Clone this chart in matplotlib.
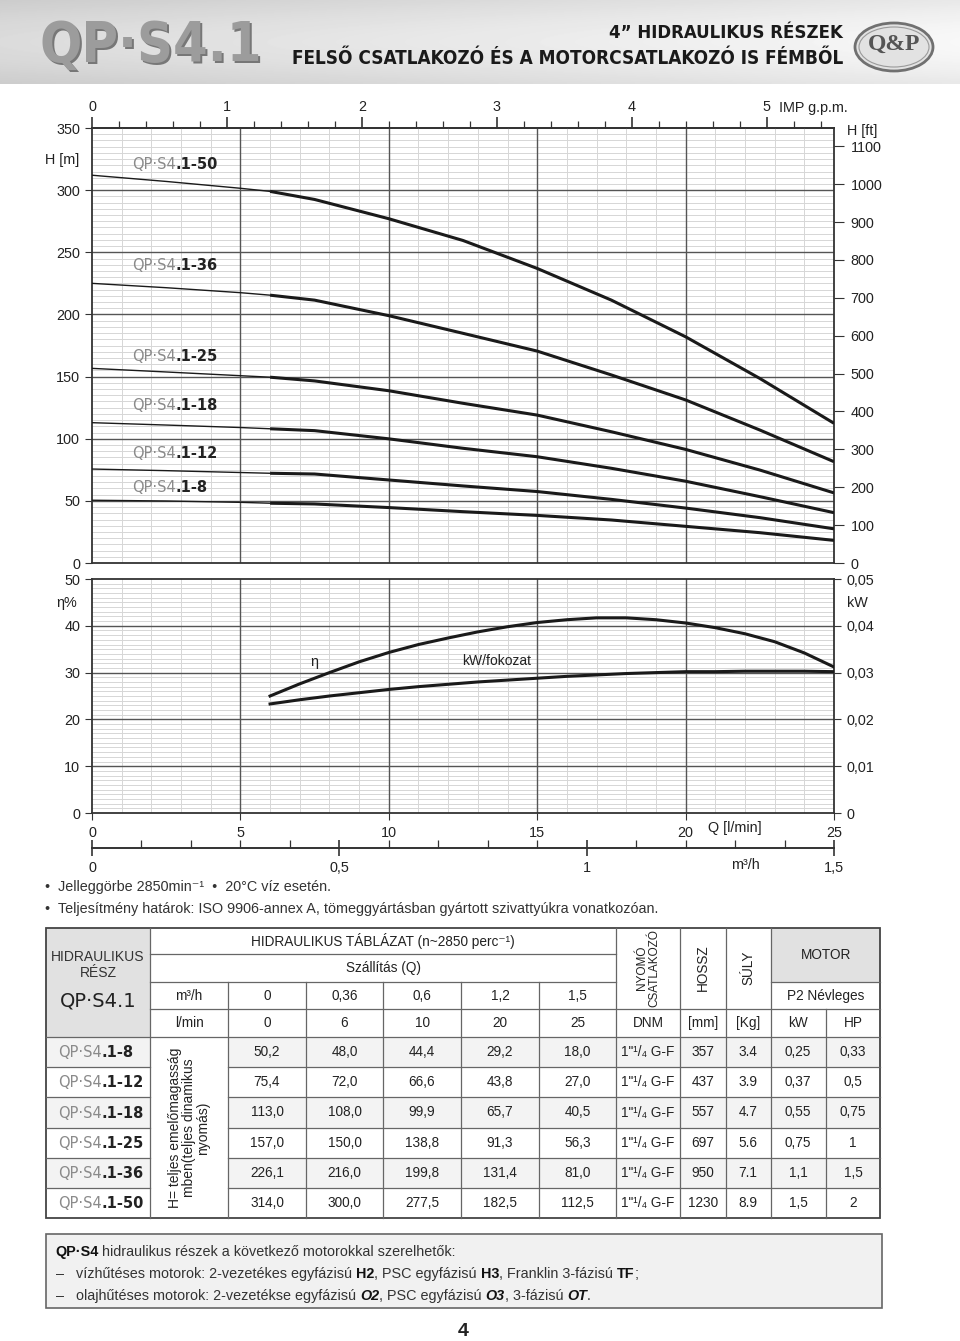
import numpy as np
import matplotlib
matplotlib.use("Agg")
import matplotlib.pyplot as plt
from matplotlib.patches import Rectangle, Ellipse
from matplotlib.ticker import MultipleLocator, FuncFormatter

plt.rcParams['font.family'] = ['Liberation Sans', 'DejaVu Sans']
VERD = ['DejaVu Sans']

# ---------------- data ----------------
models = ['1-8', '1-12', '1-18', '1-25', '1-36', '1-50']

# head curves, H [m] vs Q [l/min]
q_curve = [0, 2.5, 5, 6, 7.5, 10, 12.5, 15, 17.5, 20, 22.5, 25]
h_8 = [50.5, 49.9, 48.8, 48.1, 47.5, 44.6, 41.3, 38.3, 34.6, 29.5, 24.4, 18.2]
h_12 = [75.6, 74.3, 72.8, 72.2, 71.6, 66.8, 62.0, 57.5, 51.2, 44.2, 36.5, 27.5]
h_18 = [112.9, 111.0, 109.0, 108.0, 106.5, 99.9, 92.3, 85.5, 76.2, 65.8, 53.4, 40.5]
h_25 = [156.6, 153.7, 150.7, 149.5, 146.5, 138.6, 128.5, 119.0, 105.6, 91.4, 74.8, 56.4]
h_36 = [225.0, 221.5, 217.5, 215.5, 211.5, 199.0, 184.8, 170.5, 151.3, 131.2, 107.0, 81.5]
h_50 = [312.0, 307.0, 301.5, 299.0, 292.5, 277.0, 259.5, 237.0, 211.5, 182.0, 148.5, 112.4]

# efficiency and power per stage
q_eff = [6, 7, 8, 9, 10, 11, 12, 13, 14, 15, 16, 17, 18, 19, 20, 21, 22, 23, 24, 25]
eta = [25.0, 27.6, 30.0, 32.3, 34.3, 36.0, 37.4, 38.7, 39.8, 40.7,
       41.3, 41.7, 41.7, 41.3, 40.6, 39.6, 38.3, 36.6, 34.2, 31.2]
kw_stage = [0.0233, 0.0242, 0.0250, 0.0257, 0.0264, 0.0270, 0.0275, 0.0280, 0.0284, 0.0288,
            0.0292, 0.0295, 0.0298, 0.0300, 0.0302, 0.0302, 0.0303, 0.0303, 0.0303, 0.0302]

# table
flow_m3h = [0, 0.36, 0.6, 1.2, 1.5]
flow_lmin = [0, 6, 10, 20, 25]
tab_8 = [50.2, 48.0, 44.4, 29.2, 18.0]
tab_12 = [75.4, 72.0, 66.6, 43.8, 27.0]
tab_18 = [113.0, 108.0, 99.9, 65.7, 40.5]
tab_25 = [157.0, 150.0, 138.8, 91.3, 56.3]
tab_36 = [226.1, 216.0, 199.8, 131.4, 81.0]
tab_50 = [314.0, 300.0, 277.5, 182.5, 112.5]
connector = '1"¹/₄ G-F'
length_mm = [357, 437, 557, 697, 950, 1230]
weight_kg = [3.4, 3.9, 4.7, 5.6, 7.1, 8.9]
motor_kw = [0.25, 0.37, 0.55, 0.75, 1.1, 1.5]
motor_hp = [0.33, 0.5, 0.75, 1, 1.5, 2]

heads = [h_8, h_12, h_18, h_25, h_36, h_50]
tabs = [tab_8, tab_12, tab_18, tab_25, tab_36, tab_50]


def hu(v, nd=None):
    s = f"{v:.{nd}f}" if nd is not None else f"{v:g}"
    return s.replace('.', ',')


W, H = 960, 1341
fig = plt.figure(figsize=(W / 100, H / 100), dpi=100)


def fbox(l, t, r, b):
    return [l / W, 1 - b / H, (r - l) / W, (b - t) / H]


def style_grid(ax, ymax, ymaj, ymin):
    ax.set_xlim(0, 25)
    ax.set_ylim(0, ymax)
    ax.xaxis.set_major_locator(MultipleLocator(5))
    ax.xaxis.set_minor_locator(MultipleLocator(1))
    ax.yaxis.set_major_locator(MultipleLocator(ymaj))
    ax.yaxis.set_minor_locator(MultipleLocator(ymin))
    ax.grid(which='minor', color='#d6d6d6', lw=0.7)
    ax.set_axisbelow(True)
    # major grid drawn above the minor one
    for x in range(5, 25, 5):
        ax.axvline(x, color='#555555', lw=1.0, zorder=1.2)
    for y in np.arange(ymaj, ymax, ymaj):
        ax.axhline(y, color='#555555', lw=1.0, zorder=1.2)
    for s in ax.spines.values():
        s.set_color('#333333')
        s.set_linewidth(1.3)
    ax.tick_params(which='minor', length=0)
    ax.tick_params(which='major', direction='out', length=5, color='#333333',
                   labelsize=10.4, labelcolor='#222222')


# -------- H-Q chart --------
ax1 = fig.add_axes(fbox(92, 128, 834, 563))
style_grid(ax1, 350, 50, 5)
ax1.tick_params(axis='x', bottom=False, labelbottom=False)
for h in heads:
    ax1.plot(q_curve[:4], h[:4], color='#1a1a1a', lw=1.0, zorder=3)
    ax1.plot(q_curve[3:], h[3:], color='#1a1a1a', lw=2.2, solid_capstyle='butt', zorder=3)

ax1r = ax1.twinx()
ax1r.set_ylim(0, 350 / 0.3048)
ax1r.set_yticks(range(0, 1101, 100))
ax1r.tick_params(direction='out', length=7, color='#333333', labelsize=10.4,
                 labelcolor='#222222', pad=5)
for s in ax1r.spines.values():
    s.set_visible(False)

top = ax1.secondary_xaxis('top', functions=(lambda q: q / 4.546, lambda g: g * 4.546))
top.set_xticks(range(0, 6))
top.xaxis.set_minor_locator(MultipleLocator(0.2))
top.tick_params(which='major', direction='out', length=8, width=1.2, color='#333333',
                labelsize=10.4, labelcolor='#222222', pad=2)
top.tick_params(which='minor', direction='out', length=5, width=0.9, color='#333333')
top.spines['top'].set_color('#333333')
top.spines['top'].set_linewidth(1.3)

# -------- eta / kW chart --------
ax2 = fig.add_axes(fbox(92, 579, 834, 813))
style_grid(ax2, 50, 10, 1)
ax2.tick_params(axis='x', length=5, pad=4)
ax2.plot(q_eff, eta, color='#1a1a1a', lw=2.2, zorder=3)

ax2r = ax2.twinx()
ax2r.set_ylim(0, 0.05)
ax2r.yaxis.set_major_locator(MultipleLocator(0.01))
ax2r.yaxis.set_major_formatter(FuncFormatter(lambda v, p: '0' if abs(v) < 1e-9 else hu(v, 2)))
ax2r.tick_params(direction='out', length=5, color='#333333', labelsize=10.4,
                 labelcolor='#222222', pad=4)
for s in ax2r.spines.values():
    s.set_visible(False)
ax2r.plot(q_eff, kw_stage, color='#1a1a1a', lw=2.2)

m3 = ax2.secondary_xaxis(-35 / 234, functions=(lambda q: q * 0.06, lambda m: m / 0.06))
m3.set_xticks([0, 0.5, 1, 1.5])
m3.xaxis.set_major_formatter(FuncFormatter(lambda v, p: hu(v)))
m3.xaxis.set_minor_locator(MultipleLocator(0.1))
m3.tick_params(which='major', direction='inout', length=11, width=1.2, color='#333333',
               labelsize=10.4, labelcolor='#222222', pad=4)
m3.tick_params(which='minor', direction='in', length=6, width=0.9, color='#333333')
m3.spines['bottom'].set_color('#333333')
m3.spines['bottom'].set_linewidth(1.4)

# -------- overlay (pixel coordinates) --------
ov = fig.add_axes([0, 0, 1, 1])
ov.axis('off')
yy, xx = np.mgrid[0:84, 0:W]
grad = 0.80 + 0.11 * xx / W + 0.06 * np.sin(np.pi * yy / 84)
ov.imshow(grad, extent=(0, W, 84, 0), cmap='gray', vmin=0, vmax=1, aspect='auto',
          interpolation='bilinear', zorder=0)
ov.set_xlim(0, W)
ov.set_ylim(H, 0)

rend = fig.canvas.get_renderer()


def fit_text(x, y, s, target_w, base=20, **kw):
    t = ov.text(x, y, s, fontsize=base, **kw)
    w = t.get_window_extent(rend).width
    t.set_fontsize(base * target_w / w)
    return t


def runs(x, y, parts, size, color='#222222', family=None):
    for s, st in parts:
        st = dict(st)
        fs = st.pop('size', size)
        dy = st.pop('dy', 0)
        col = st.pop('color', color)
        fam = st.pop('family', family or plt.rcParams['font.family'])
        sp = 0.278 * fs * 100 / 72
        lead = len(s) - len(s.lstrip(' '))
        trail = len(s) - len(s.rstrip(' '))
        x += lead * sp
        t = ov.text(x, y + dy, s.strip(' '), fontsize=fs, va='baseline', ha='left',
                    color=col, family=fam, **st)
        x += t.get_window_extent(rend).width + trail * sp
    return x


# header
hdr = dict(family='DejaVu Sans', fontstretch='condensed', fontweight='bold')
fit_text(42, 48, 'QP·S4.1', 222, color='#777777', va='center', ha='left', **hdr)
fit_text(40, 46, 'QP·S4.1', 222, color='#9c9c9c', va='center', ha='left', **hdr)
fit_text(843, 33, '4” HIDRAULIKUS RÉSZEK', 233, color='#1a1a1a', va='center',
         ha='right', **hdr)
fit_text(843, 58, 'FELSŐ CSATLAKOZÓ ÉS A MOTORCSATLAKOZÓ IS FÉMBŐL', 550,
         color='#1a1a1a', va='center', ha='right', **hdr)
ov.add_patch(Ellipse((894, 47), 78, 48, fc='#e2e2e2', ec='#707070', lw=2))
ov.add_patch(Ellipse((894, 47), 70, 40, fc='none', ec='#9a9a9a', lw=0.8))
ov.text(894, 44, 'Q&P', ha='center', va='center', fontsize=17, fontweight='bold',
        color='#555555', family=['Liberation Serif'])

# chart side labels
lab = dict(fontsize=10.4, color='#222222')
ov.text(62, 160, 'H [m]', ha='center', va='center', **lab)
ov.text(847, 131, 'H [ft]', ha='left', va='center', **lab)
ov.text(813, 108, 'IMP g.p.m.', ha='center', va='center', **lab)
ov.text(67, 603, 'η%', ha='center', va='center', **lab)
ov.text(857, 603, 'kW', ha='center', va='center', **lab)
ov.text(314, 662, 'η', ha='center', va='center', **lab)
ov.text(497, 661, 'kW/fokozat', ha='center', va='center', fontsize=10, color='#222222')
ov.text(735, 828, 'Q [l/min]', ha='center', va='center', **lab)
ov.text(745, 865, 'm³/h', ha='center', va='center', **lab)

label_y = [492, 458, 410, 361, 270, 169]
for m, y in zip(models, label_y):
    runs(132, y, [('QP·S4', {'color': '#8a8a8a'}), ('.' + m, {'fontweight': 'bold'})],
         10.5, family=VERD)

# notes
note = dict(fontsize=10.4, color='#333333', va='center', ha='left')
ov.text(45, 887, '•  Jelleggörbe 2850min⁻¹  •  20°C víz esetén.', **note)
ov.text(45, 909, '•  Teljesítmény határok: ISO 9906-annex A, tömeggyártásban gyártott '
        'szivattyúkra vonatkozóan.', **note)

# -------- table --------
cx = [46, 150, 228, 306, 383, 461, 539, 616, 680, 726, 771, 826, 880]
ry = [928, 954, 982, 1009, 1037, 1067, 1097, 1128, 1158, 1188, 1218]
gray = '#e1e1e1'
ov.add_patch(Rectangle((46, 928), 104, 109, fc=gray, ec='none'))
ov.add_patch(Rectangle((771, 928), 109, 54, fc=gray, ec='none'))
for i in range(0, 6, 2):
    y0 = ry[4 + i]
    ov.add_patch(Rectangle((46, y0), 104, ry[5 + i] - y0, fc='#f3f3f3', ec='none'))
    ov.add_patch(Rectangle((228, y0), 652, ry[5 + i] - y0, fc='#f3f3f3', ec='none'))

lc = dict(color='#666666', lw=0.9)
ov.plot([150, 616], [954, 954], **lc)
ov.plot([150, 616], [982, 982], **lc)
ov.plot([771, 880], [982, 982], **lc)
ov.plot([150, 880], [1009, 1009], **lc)
ov.plot([46, 880], [1037, 1037], **lc)
for y in ry[5:-1]:
    ov.plot([46, 150], [y, y], **lc)
    ov.plot([228, 880], [y, y], **lc)
ov.plot([150, 150], [928, 1218], **lc)
for x in [228, 306, 383, 461, 539]:
    ov.plot([x, x], [982, 1218], **lc)
for x in [616, 680, 726, 771]:
    ov.plot([x, x], [928, 1218], **lc)
ov.plot([826, 826], [1009, 1218], **lc)
ov.add_patch(Rectangle((46, 928), 834, 290, fc='none', ec='#444444', lw=1.3))

tf = dict(ha='center', va='center', fontsize=9.8, color='#222222')
ov.text(98, 965, 'HIDRAULIKUS\nRÉSZ', linespacing=1.2, ha='center', va='center',
        fontsize=10, color='#333333')
ov.text(98, 1001, 'QP·S4.1', ha='center', va='center', fontsize=14, family=VERD,
        color='#222222')
ov.text(383, 941, 'HIDRAULIKUS TÁBLÁZAT (n~2850 perc⁻¹)', **tf)
ov.text(383, 968, 'Szállítás (Q)', **tf)
ov.text(189, 996, 'm³/h', **tf)
ov.text(189, 1023, 'l/min', **tf)
for j in range(5):
    xc = (cx[2 + j] + cx[3 + j]) / 2
    ov.text(xc, 996, hu(flow_m3h[j]), **tf)
    ov.text(xc, 1023, hu(flow_lmin[j]), **tf)
ov.text(648, 968, 'NYOMÓ\nCSATLAKOZÓ', rotation=90, linespacing=1.0, ha='center',
        va='center', fontsize=8.5, color='#222222', multialignment='center')
ov.text(703, 968, 'HOSSZ', rotation=90, **tf)
ov.text(748, 968, 'SÚLY', rotation=90, **tf)
ov.text(826, 955, 'MOTOR', **tf)
ov.text(826, 996, 'P2 Névleges', **tf)
for x, s in zip([648, 703, 748, 798, 853], ['DNM', '[mm]', '[Kg]', 'kW', 'HP']):
    ov.text(x, 1023, s, **tf)
ov.text(189, 1128, 'H= teljes emelőmagasság\nmben(teljes dinamikus\nnyomás)', rotation=90,
        linespacing=1.0, ha='center', va='center', fontsize=10, color='#222222',
        multialignment='center')

for i, m in enumerate(models):
    yc = (ry[4 + i] + ry[5 + i]) / 2
    runs(58, yc + 5, [('QP·S4', {'color': '#8a8a8a'}), ('.' + m, {'fontweight': 'bold'})],
         10.5, family=VERD)
    for j in range(5):
        ov.text((cx[2 + j] + cx[3 + j]) / 2, yc, hu(tabs[i][j], 1), **tf)
    ov.text(648, yc, connector, **tf)
    ov.text(703, yc, str(length_mm[i]), **tf)
    ov.text(748, yc, f"{weight_kg[i]:.1f}", **tf)
    ov.text(798, yc, hu(motor_kw[i]), **tf)
    ov.text(853, yc, hu(motor_hp[i]), **tf)

# -------- motor box --------
ov.add_patch(Rectangle((46, 1234), 836, 74, fc='#f1f1f1', ec='#666666', lw=1.2))
B = {'fontweight': 'bold', 'color': '#111111'}
BI = {'fontweight': 'bold', 'fontstyle': 'italic', 'color': '#111111'}
N = {}
fsb = 10.4
runs(55, 1256, [('QP·S4', B), (' hidraulikus részek a következő motorokkal szerelhetők:', N)],
     fsb, color='#333333')
ov.text(56, 1278, '–', fontsize=fsb, color='#333333', va='baseline')
runs(76, 1278, [('vízhűtéses motorok: 2-vezetékes egyfázisú ', N), ('H2', B),
                (', PSC egyfázisú ', N), ('H3', B), (', Franklin 3-fázisú ', N),
                ('TF', B), (';', N)], fsb, color='#333333')
ov.text(56, 1300, '–', fontsize=fsb, color='#333333', va='baseline')
runs(76, 1300, [('olajhűtéses motorok: 2-vezetékse egyfázisú ', N), ('O2', BI),
                (', PSC egyfázisú ', N), ('O3', BI), (', 3-fázisú ', N),
                ('OT', BI), ('.', N)], fsb, color='#333333')

ov.text(463, 1331, '4', ha='center', va='center', fontsize=14, fontweight='bold',
        color='#222222')

fig.savefig('out.png', dpi=100)
